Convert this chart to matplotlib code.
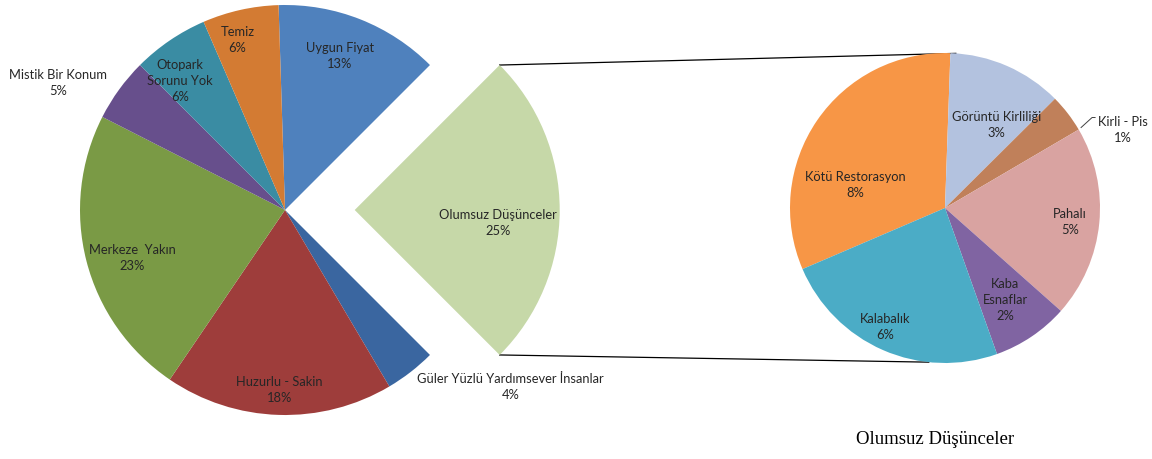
#coding: utf-8
import math
import matplotlib
matplotlib.use("Agg")
import matplotlib.pyplot as plt

# Ana pasta (sol)
main_labels = ["Uygun Fiyat", "Olumsuz Düşünceler", "Güler Yüzlü Yardımsever İnsanlar",
               "Huzurlu - Sakin", "Merkeze  Yakın", "Mistik Bir Konum",
               "Otopark\nSorunu Yok", "Temiz"]
main_values = [13, 25, 4, 18, 23, 5, 6, 6]
main_colors = ["#4f81bd", "#c6d8a8", "#3a66a0", "#9e3d3b", "#7a9a45",
               "#674f8c", "#3a8ca3", "#d37b33"]

# İkinci pasta (sağ) - Olumsuz Düşünceler kırılımı
sub_labels = ["Kötü Restorasyon", "Görüntü Kirliliği", "Kirli - Pis", "Pahalı",
              "Kaba\nEsnaflar", "Kalabalık"]
sub_values = [8, 3, 1, 5, 2, 6]
sub_colors = ["#f79646", "#b3c2df", "#c0805a", "#d9a3a1", "#8064a2", "#4bacc6"]

title = "Olumsuz Düşünceler"

# yerleşim: (yarıçap oranı, açı kayması) her etiket için
main_lab_pos = [(0.80, 2), (0.70, -5), (1.40, 14), (0.88, 0),
                (0.78, 3), (1.27, 6.8), (0.81, 5), (0.86, 3)]
sub_lab_pos = [(0.60, 20), (0.63, -8), (1.25, -14), (0.81, -1),
               (0.71, -1), (0.86, -3)]

W, H = 1152, 459
fig = plt.figure(figsize=(W / 100, H / 100), dpi=100)
ax = fig.add_axes([0, 0, 1, 1])

font = ["Lato", "DejaVu Sans"]
txt_color = "#262626"

c1 = (285, H - 210)
r1 = 205
# pie() explode degeri veri biriminde
explode = [0.34 * r1 if i == 1 else 0 for i in range(len(main_values))]
start1 = 91.8
w1, _ = ax.pie(main_values, colors=main_colors, center=c1, radius=r1,
               startangle=start1, counterclock=False,
               explode=explode, frame=True,
               wedgeprops=dict(linewidth=0))

c2 = (945, H - 208)
r2 = 155
start2 = 88 + 360 * sub_values[0] / sum(sub_values)
w2, _ = ax.pie(sub_values, colors=sub_colors, center=c2, radius=r2,
               startangle=start2, counterclock=False, frame=True,
               wedgeprops=dict(linewidth=0))
ax.set_xlim(0, W)
ax.set_ylim(0, H)
ax.set_aspect("equal")
ax.axis("off")


def put_labels(wedges, labels, values, pos):
    for w, lab, v, (f, da) in zip(wedges, labels, values, pos):
        mid = math.radians((w.theta1 + w.theta2) / 2 + da)
        cx, cy = w.center
        x = cx + f * w.r * math.cos(mid)
        y = cy + f * w.r * math.sin(mid)
        ax.text(x, y, f"{lab}\n{v}%", ha="center", va="center",
                fontsize=9.3, family=font, color=txt_color, linespacing=1.4)


put_labels(w1, main_labels, main_values, main_lab_pos)
put_labels(w2, sub_labels, sub_values, sub_lab_pos)

# bağlantı çizgileri
ow = w1[1]
ocx, ocy = ow.center
a_top = math.radians(ow.theta2)
a_bot = math.radians(ow.theta1)
p_top = (ocx + r1 * math.cos(a_top), ocy + r1 * math.sin(a_top))
p_bot = (ocx + r1 * math.cos(a_bot), ocy + r1 * math.sin(a_bot))
q_top = (c2[0] + r2 * math.cos(math.radians(86)), c2[1] + r2 * math.sin(math.radians(86)))
q_bot = (c2[0] + r2 * math.cos(math.radians(-96)), c2[1] + r2 * math.sin(math.radians(-96)))
ax.plot([p_top[0], q_top[0]], [p_top[1], q_top[1]], color="black", lw=0.9, zorder=0)
ax.plot([p_bot[0], q_bot[0]], [p_bot[1], q_bot[1]], color="black", lw=0.9, zorder=0)

# Kirli - Pis kılavuz çizgisi
kw = w2[2]
km = math.radians((kw.theta1 + kw.theta2) / 2 - 7)
k0 = (c2[0] + 1.02 * r2 * math.cos(km), c2[1] + 1.02 * r2 * math.sin(km))
k1 = (k0[0] + 11, k0[1] + 10)
ax.plot([k0[0], k1[0], k1[0] + 3], [k0[1], k1[1], k1[1]], color="#404040", lw=0.7)

ax.text(935, H - 440, title, ha="center", va="center", fontsize=13.5,
        family="Liberation Serif", color="black")

fig.savefig("out.png", dpi=100)
